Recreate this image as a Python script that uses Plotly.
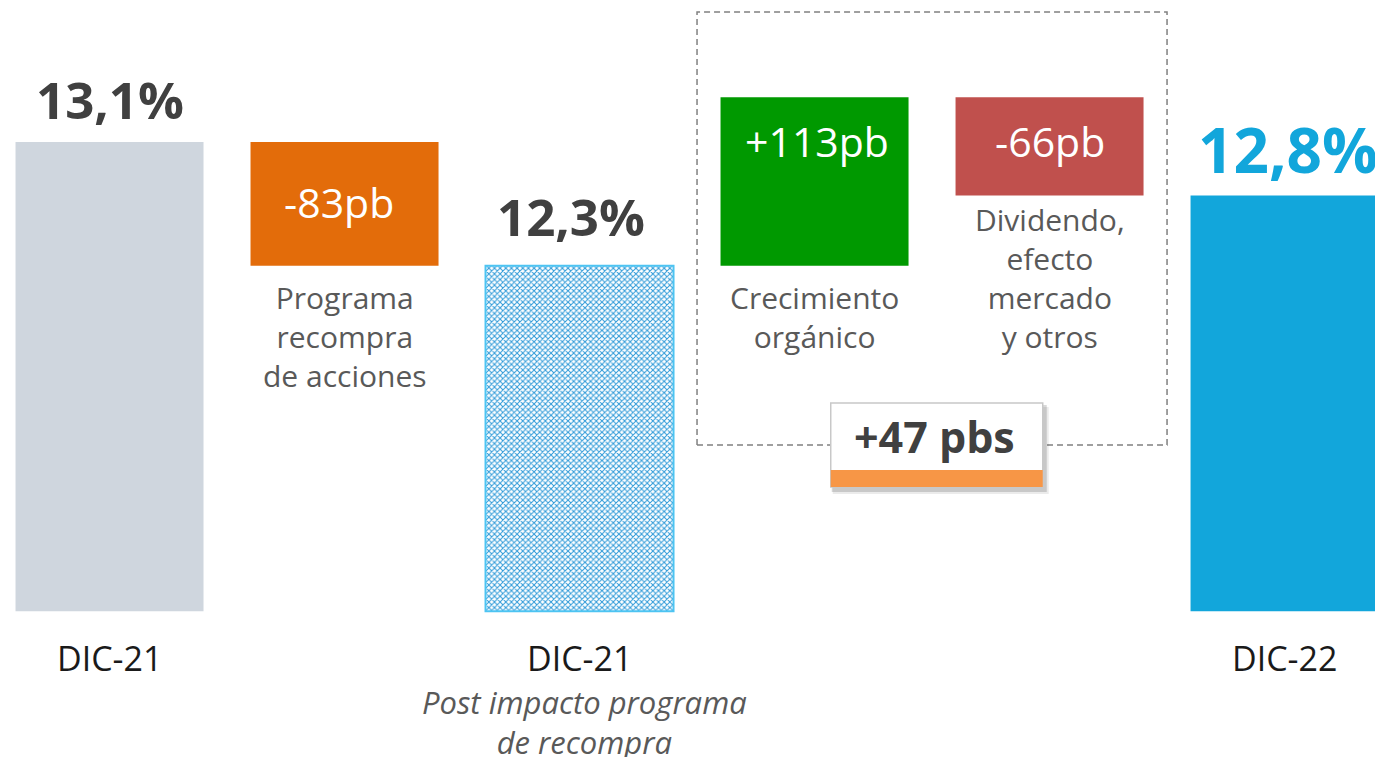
import plotly.graph_objects as go

# ---------------- data ----------------
categories = ["DIC-21", "Programa recompra de acciones", "DIC-21 post", "Crecimiento orgánico",
              "Dividendo, efecto mercado y otros", "DIC-22"]
start_ratio = 13.1                 # % DIC-21
changes_pb = [-83, 113, -66]       # basis points
value_labels = ["13,1%", "-83pb", "12,3%", "+113pb", "-66pb", "12,8%"]
below_labels = ["", "Programa<br>recompra<br>de acciones", "", "Crecimiento<br>orgánico",
                "Dividendo,<br>efecto<br>mercado<br>y otros", ""]
axis_labels = ["DIC-21", "", "DIC-21", "", "", "DIC-22"]
subtitle = "Post impacto programa<br>de recompra"
net_label = "+47 pbs"

# ---------------- build waterfall geometry from data ----------------
FLOOR = 9.95   # visual floor of the (broken) axis
lvl0 = start_ratio
lvl1 = lvl0 + changes_pb[0] / 100
lvl2 = lvl1 + changes_pb[1] / 100
lvl3 = lvl2 + changes_pb[2] / 100
bases = [FLOOR, lvl1, FLOOR, lvl1, lvl3, FLOOR]
tops = [lvl0, lvl0, lvl1, lvl2, lvl2, lvl3]
heights = [t - b for t, b in zip(tops, bases)]
xs = list(range(len(categories)))

colors = ["#CFD6DE", "#E36C0A", "#2F9AD8", "#009900", "#C0504D", "#12A6DB"]
line_colors = ["#CFD6DE", "#E36C0A", "#4DC4F2", "#009900", "#C0504D", "#12A6DB"]
line_widths = [0, 0, 2, 0, 0, 0]
patterns = ["", "", "x", "", "", ""]

fig = go.Figure()
fig.add_trace(go.Bar(
    x=xs, y=heights, base=bases, width=0.8,
    marker=dict(color=colors,
                line=dict(color=line_colors, width=line_widths),
                pattern=dict(shape=patterns, bgcolor="#FFFFFF",
                             size=4, solidity=0.45, fillmode="replace")),
    hoverinfo="skip", showlegend=False,
))

FONT = "Open Sans"
DARK = "#404040"
GRAY = "#595959"

annotations = []
# values above the total bars
above_shift = {0: 43, 2: 50, 5: 47}
above_xshift = {0: 0, 2: -9, 5: 3}
above_size = {0: 51, 2: 51, 5: 62}
above_color = {0: DARK, 2: DARK, 5: "#12A6DB"}
for i, s in above_shift.items():
    annotations.append(dict(x=xs[i], y=tops[i], text=f"<b>{value_labels[i]}</b>", showarrow=False,
                            yanchor="middle", yshift=s, xshift=above_xshift[i],
                            font=dict(family=FONT, size=above_size[i], color=above_color[i])))
# values inside the delta bars
inside_shift = {1: -60, 3: -44, 4: -44}
inside_xshift = {1: -6, 3: 2, 4: 0}
for i, s in inside_shift.items():
    annotations.append(dict(x=xs[i], y=tops[i], text=value_labels[i], showarrow=False,
                            yanchor="middle", yshift=s, xshift=inside_xshift[i],
                            font=dict(family=FONT, size=41, color="white")))
# descriptions below the delta bars
below_shift = {1: -71, 3: -51, 4: -82}
for i, s in below_shift.items():
    annotations.append(dict(x=xs[i], y=bases[i], text=below_labels[i], showarrow=False,
                            yanchor="middle", yshift=s,
                            font=dict(family=FONT, size=30, color=GRAY)))
# category labels below total bars
for i in (0, 2, 5):
    annotations.append(dict(x=xs[i], y=FLOOR, text=axis_labels[i], showarrow=False,
                            yanchor="middle", yshift=-47,
                            font=dict(family=FONT, size=34, color="#1A1A1A")))
annotations.append(dict(x=xs[2], y=FLOOR, text=f"<i>{subtitle}</i>", showarrow=False,
                        yanchor="middle", yshift=-111, xshift=5,
                        font=dict(family=FONT, size=31, color=GRAY)))

# net change box (page has an 8px body offset; positions are in plot pixels)
box_y = 1 - 437 / 757
box_x = 3.52
annotations.append(dict(x=box_x, y=box_y, yref="paper", text=f"<b>{net_label}</b>",
                        showarrow=False, yanchor="middle", yshift=9, xshift=-2,
                        font=dict(family=FONT, size=43, color=DARK)))

shapes = [
    # dashed grouping frame around the two deltas
    dict(type="rect", xref="x", yref="paper", x0=2.5, x1=4.5, y0=box_y, y1=1 - 4 / 757,
         line=dict(color="#808080", width=1.5, dash="6px,4px"), fillcolor="rgba(0,0,0,0)"),
    # soft shadow
    dict(type="rect", xref="x", yref="paper", xsizemode="pixel", ysizemode="pixel",
         xanchor=box_x, yanchor=box_y, x0=-104, x1=112, y0=-49, y1=38,
         line=dict(width=0), fillcolor="rgba(0,0,0,0.08)"),
    dict(type="rect", xref="x", yref="paper", xsizemode="pixel", ysizemode="pixel",
         xanchor=box_x, yanchor=box_y, x0=-105, x1=110, y0=-47, y1=40,
         line=dict(width=0), fillcolor="rgba(0,0,0,0.15)"),
    # white box
    dict(type="rect", xref="x", yref="paper", xsizemode="pixel", ysizemode="pixel",
         xanchor=box_x, yanchor=box_y, x0=-106, x1=106, y0=-42, y1=42,
         line=dict(color="#C8C8C8", width=1.5), fillcolor="white"),
    # orange strip
    dict(type="rect", xref="x", yref="paper", xsizemode="pixel", ysizemode="pixel",
         xanchor=box_x, yanchor=box_y, x0=-106, x1=106, y0=-42, y1=-25,
         line=dict(width=0), fillcolor="#F79646"),
]

fig.update_layout(
    width=1383, height=757,
    margin=dict(l=0, r=0, t=0, b=0),
    paper_bgcolor="white", plot_bgcolor="white",
    xaxis=dict(range=[-0.432, 5.453], visible=False, fixedrange=True),
    yaxis=dict(range=[8.919, 13.999], visible=False, fixedrange=True),
    annotations=annotations, shapes=shapes,
    bargap=0.2, showlegend=False,
)

fig.write_html("out.html")
